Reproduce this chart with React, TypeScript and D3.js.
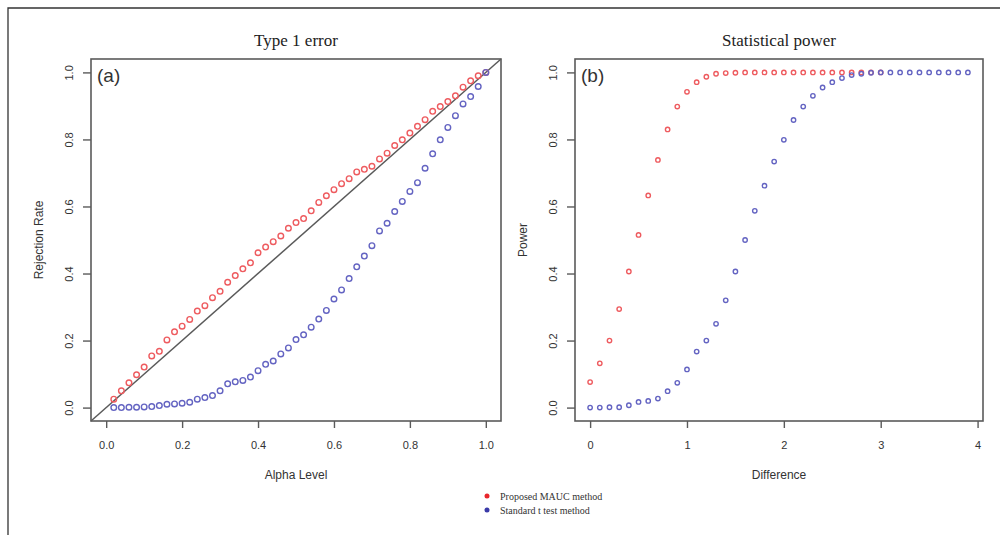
import React, { useRef, useEffect } from "react";
import * as d3 from "d3";

// alpha levels used in the type 1 error simulation
const alphaLevels = [
  0.02, 0.04, 0.06, 0.08, 0.1, 0.12, 0.14, 0.16, 0.18, 0.2,
  0.22, 0.24, 0.26, 0.28, 0.3, 0.32, 0.34, 0.36, 0.38, 0.4,
  0.42, 0.44, 0.46, 0.48, 0.5, 0.52, 0.54, 0.56, 0.58, 0.6,
  0.62, 0.64, 0.66, 0.68, 0.7, 0.72, 0.74, 0.76, 0.78, 0.8,
  0.82, 0.84, 0.86, 0.88, 0.9, 0.92, 0.94, 0.96, 0.98, 1.0,
];
const maucRejection = [
  0.025, 0.05, 0.074, 0.098, 0.121, 0.154, 0.168, 0.202, 0.226, 0.243,
  0.263, 0.288, 0.304, 0.328, 0.347, 0.374, 0.394, 0.414, 0.432, 0.462,
  0.479, 0.495, 0.512, 0.535, 0.552, 0.564, 0.587, 0.612, 0.632, 0.65,
  0.668, 0.683, 0.703, 0.711, 0.72, 0.742, 0.759, 0.782, 0.799, 0.819,
  0.839, 0.859, 0.884, 0.898, 0.913, 0.93, 0.956, 0.975, 0.99, 1.0,
];
const tTestRejection = [
  0.0, 0.0, 0.001, 0.001, 0.002, 0.003, 0.006, 0.01, 0.011, 0.013,
  0.016, 0.025, 0.03, 0.036, 0.05, 0.071, 0.077, 0.081, 0.091, 0.11,
  0.129, 0.139, 0.16, 0.178, 0.203, 0.217, 0.24, 0.264, 0.29, 0.324,
  0.351, 0.385, 0.42, 0.452, 0.483, 0.527, 0.55, 0.585, 0.615, 0.645,
  0.671, 0.714, 0.757, 0.799, 0.836, 0.871, 0.906, 0.928, 0.958, 1.0,
];

// mean differences for the power simulation
const differences = [
  0, 0.1, 0.2, 0.3, 0.4, 0.5, 0.6, 0.7, 0.8, 0.9,
  1.0, 1.1, 1.2, 1.3, 1.4, 1.5, 1.6, 1.7, 1.8, 1.9,
  2.0, 2.1, 2.2, 2.3, 2.4, 2.5, 2.6, 2.7, 2.8, 2.9,
  3.0, 3.1, 3.2, 3.3, 3.4, 3.5, 3.6, 3.7, 3.8, 3.9,
];
const maucPower = [
  0.076, 0.132, 0.2, 0.294, 0.406, 0.515, 0.633, 0.739, 0.83, 0.898,
  0.942, 0.971, 0.987, 0.996, 0.998, 0.999, 1, 1, 1, 1,
  1, 1, 1, 1, 1, 1, 1, 1, 1, 1, 1,
];
const tTestPower = [
  0, 0, 0.001, 0.001, 0.007, 0.017, 0.02, 0.027, 0.049, 0.074,
  0.114, 0.167, 0.2, 0.25, 0.32, 0.406, 0.5, 0.587, 0.662, 0.734,
  0.799, 0.858, 0.898, 0.93, 0.955, 0.971, 0.983, 0.992, 0.996, 0.999,
  1, 1, 1, 1, 1, 1, 1, 1, 1, 1,
];

const yTicks = [0, 0.2, 0.4, 0.6, 0.8, 1.0];
const alphaTicks = [0, 0.2, 0.4, 0.6, 0.8, 1.0];
const diffTicks = [0, 1, 2, 3, 4];
const legendLabels = ["Proposed MAUC method", "Standard t test method"];

const RED = "#ee5b5f";
const BLUE = "#6464c2";
const AXIS = "#5a5a5a";

function Panel({ x0, x1, xDomain, xTicks, xFmt, title, tag, xLabel, yLabel, series, r, diagonal }) {
  const ref = useRef(null);
  const top = 59;
  const bottom = 421;

  useEffect(() => {
    const g = d3.select(ref.current);
    g.selectAll("*").remove();

    const xScale = d3.scaleLinear().domain(xDomain).range([x0, x1]);
    const yScale = d3.scaleLinear().domain([-0.04, 1.04]).range([bottom, top]);

    // title above the box
    g.append("text")
      .attr("x", (x0 + x1) / 2)
      .attr("y", 46)
      .attr("text-anchor", "middle")
      .attr("font-family", "Liberation Serif, serif")
      .attr("font-size", 17)
      .attr("fill", "#222")
      .text(title);

    // x axis, ticks pointing out of the box like R
    const xAxis = d3.axisBottom(xScale).tickValues(xTicks).tickSize(7).tickSizeOuter(0).tickPadding(13).tickFormat(xFmt);
    const gx = g.append("g").attr("transform", `translate(0,${bottom})`).call(xAxis);
    gx.select(".domain").remove();
    gx.selectAll("line").attr("stroke", AXIS).attr("stroke-width", 1.4);
    gx.selectAll("text")
      .attr("font-family", "Liberation Sans, Arial, sans-serif")
      .attr("font-size", 11)
      .attr("fill", "#333");

    const yAxis = d3.axisLeft(yScale).tickValues(yTicks).tickSize(8).tickSizeOuter(0).tickFormat(d3.format(".1f"));
    const gy = g.append("g").attr("transform", `translate(${x0},0)`).call(yAxis);
    gy.select(".domain").remove();
    gy.selectAll("line").attr("stroke", AXIS).attr("stroke-width", 1.4);
    gy.selectAll("text")
      .attr("x", null)
      .attr("dy", null)
      .attr("transform", "translate(-18,0) rotate(-90)")
      .attr("text-anchor", "middle")
      .attr("font-family", "Liberation Sans, Arial, sans-serif")
      .attr("font-size", 11)
      .attr("fill", "#333");

    // axis titles
    g.append("text")
      .attr("x", (x0 + x1) / 2)
      .attr("y", 479)
      .attr("text-anchor", "middle")
      .attr("font-family", "Liberation Sans, Arial, sans-serif")
      .attr("font-size", 12)
      .attr("fill", "#333")
      .text(xLabel);
    g.append("text")
      .attr("transform", `translate(${x0 - 48},${(top + bottom) / 2}) rotate(-90)`)
      .attr("text-anchor", "middle")
      .attr("font-family", "Liberation Sans, Arial, sans-serif")
      .attr("font-size", 12)
      .attr("fill", "#333")
      .text(yLabel);

    if (diagonal) {
      g.append("line")
        .attr("x1", xScale(xDomain[0]))
        .attr("y1", yScale(xDomain[0]))
        .attr("x2", xScale(xDomain[1]))
        .attr("y2", yScale(xDomain[1]))
        .attr("stroke", AXIS)
        .attr("stroke-width", 1.5);
    }

    // the points, open circles
    series.forEach((s) => {
      g.append("g")
        .selectAll("circle")
        .data(s.values)
        .join("circle")
        .attr("cx", (d, i) => xScale(s.xs[i]))
        .attr("cy", (d) => yScale(d))
        .attr("r", r)
        .attr("fill", "none")
        .attr("stroke", s.color)
        .attr("stroke-width", 1.4);
    });

    g.append("rect")
      .attr("x", x0)
      .attr("y", top)
      .attr("width", x1 - x0)
      .attr("height", bottom - top)
      .attr("fill", "none")
      .attr("stroke", AXIS)
      .attr("stroke-width", 1.6);

    g.append("text")
      .attr("x", x0 + 6)
      .attr("y", 82)
      .attr("font-family", "Liberation Sans, Arial, sans-serif")
      .attr("font-size", 19)
      .attr("fill", "#333")
      .text(tag);
  }, []);

  return <g ref={ref} />;
}

export default function App() {
  return (
    <svg width={1000} height={535} style={{ position: "absolute", left: 0, top: 0, background: "#fff" }}>
      {/* figure frame */}
      <path d="M8,535 V8 H1000" fill="none" stroke="#333" strokeWidth={1.3} />
      <Panel
        x0={91}
        x1={501}
        xDomain={[-0.04, 1.04]}
        xTicks={alphaTicks}
        xFmt={d3.format(".1f")}
        title="Type 1 error"
        tag="(a)"
        xLabel="Alpha Level"
        yLabel="Rejection Rate"
        r={2.8}
        diagonal
        series={[
          { xs: alphaLevels, values: maucRejection, color: RED },
          { xs: alphaLevels, values: tTestRejection, color: BLUE },
        ]}
      />
      <Panel
        x0={575}
        x1={983}
        xDomain={[-0.156, 4.056]}
        xTicks={diffTicks}
        xFmt={d3.format("d")}
        title="Statistical power"
        tag="(b)"
        xLabel="Difference"
        yLabel="Power"
        r={2.2}
        diagonal={false}
        series={[
          { xs: differences, values: maucPower, color: RED },
          { xs: differences, values: tTestPower, color: BLUE },
        ]}
      />
      {/* legend */}
      {legendLabels.map((label, i) => (
        <g key={label} transform={`translate(487,${496 + i * 14})`}>
          <circle r={2.5} fill={i === 0 ? "#e8262c" : "#3a3aa8"} />
          <text x={13} y={3.5} fontFamily="Liberation Serif, serif" fontSize={10} fill="#333">
            {label}
          </text>
        </g>
      ))}
    </svg>
  );
}
